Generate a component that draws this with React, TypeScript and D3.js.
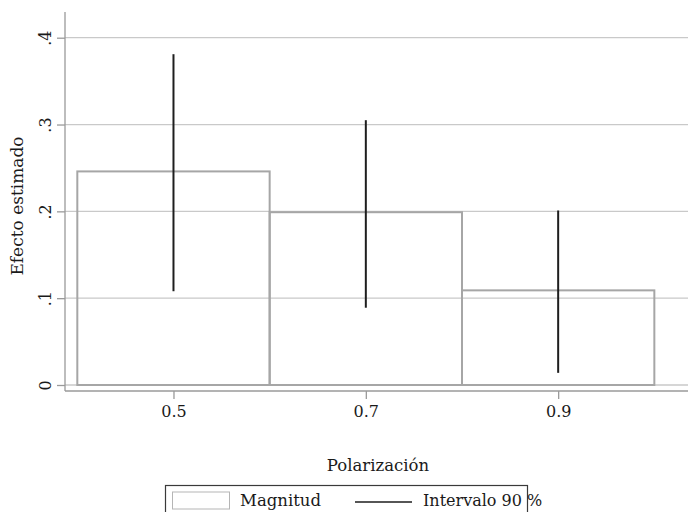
import React, { useRef, useEffect } from "react";
import * as d3 from "d3";

// Polarization levels and estimated effects
const categories = [0.5, 0.7, 0.9];
const magnitud = [0.246, 0.199, 0.109];
const lower90 = [0.108, 0.089, 0.014];
const upper90 = [0.381, 0.305, 0.201];
const barWidth = 0.2;

const yTicks = [0, 0.1, 0.2, 0.3, 0.4];
const yTickLabels = ["0", ".1", ".2", ".3", ".4"];
const xTicks = [0.5, 0.7, 0.9];
const xTickLabels = ["0.5", "0.7", "0.9"];

const FONT = "DejaVu Serif";

const App = () => {
  const ref = useRef<SVGSVGElement>(null);

  useEffect(() => {
    if (!ref.current) return;
    const svg = d3.select(ref.current);
    svg.selectAll("*").remove();

    const W = 688,
      H = 512;
    const plot = { left: 65, right: 688, top: 12, bottom: 391 };

    const x = d3.scaleLinear().domain([0.3872, 1.035]).range([plot.left, plot.right]);
    const y = d3.scaleLinear().domain([0, 0.4]).range([385, 37.7]);

    svg.append("rect").attr("width", W).attr("height", H).attr("fill", "#fff");

    // gridlines
    svg
      .append("g")
      .selectAll("line")
      .data(yTicks)
      .enter()
      .append("line")
      .attr("x1", plot.left)
      .attr("x2", plot.right)
      .attr("y1", (d) => y(d))
      .attr("y2", (d) => y(d))
      .attr("stroke", "#c9c9c9")
      .attr("stroke-width", 1.3);

    // bars
    const data = categories.map((c, i) => ({
      c,
      v: magnitud[i],
      lo: lower90[i],
      hi: upper90[i],
    }));

    svg
      .append("g")
      .selectAll("rect")
      .data(data)
      .enter()
      .append("rect")
      .attr("x", (d) => x(d.c - barWidth / 2))
      .attr("width", (d) => x(d.c + barWidth / 2) - x(d.c - barWidth / 2))
      .attr("y", (d) => y(d.v))
      .attr("height", (d) => y(0) - y(d.v))
      .attr("fill", "none")
      .attr("stroke", "#a6a6a6")
      .attr("stroke-width", 2);

    // 90% intervals
    svg
      .append("g")
      .selectAll("line")
      .data(data)
      .enter()
      .append("line")
      .attr("x1", (d) => x(d.c))
      .attr("x2", (d) => x(d.c))
      .attr("y1", (d) => y(d.lo))
      .attr("y2", (d) => y(d.hi))
      .attr("stroke", "#1e1e1e")
      .attr("stroke-width", 2);

    // y axis
    const yAxis = svg
      .append("g")
      .attr("transform", `translate(${plot.left},0)`)
      .call(
        d3
          .axisLeft(y)
          .tickValues(yTicks)
          .tickSize(8)
          .tickSizeOuter(0)
          .tickFormat((d, i) => yTickLabels[i])
      );
    yAxis.select(".domain").attr("d", `M0,${plot.top}V${plot.bottom}`);
    yAxis.selectAll("line").attr("stroke", "#9a9a9a").attr("stroke-width", 1.3);
    yAxis.select(".domain").attr("stroke", "#9a9a9a").attr("stroke-width", 1.3);
    yAxis
      .selectAll("text")
      .attr("transform", "rotate(-90)")
      .attr("x", 0)
      .attr("y", -14)
      .attr("dy", 0)
      .attr("text-anchor", "middle")
      .attr("fill", "#1a1a1a")
      .style("font-family", FONT)
      .style("font-size", "16px");

    // x axis
    const xAxis = svg
      .append("g")
      .attr("transform", `translate(0,${plot.bottom})`)
      .call(
        d3
          .axisBottom(x)
          .tickValues(xTicks)
          .tickSize(8)
          .tickSizeOuter(0)
          .tickFormat((d, i) => xTickLabels[i])
      );
    xAxis.select(".domain").attr("d", `M${plot.left},0H${plot.right}`);
    xAxis.selectAll("line").attr("stroke", "#9a9a9a").attr("stroke-width", 1.3);
    xAxis.select(".domain").attr("stroke", "#9a9a9a").attr("stroke-width", 1.3);
    xAxis
      .selectAll("text")
      .attr("y", 26)
      .attr("dy", 0)
      .attr("fill", "#1a1a1a")
      .style("font-family", FONT)
      .style("font-size", "16px");

    // axis titles
    svg
      .append("text")
      .attr("transform", `translate(23,206) rotate(-90)`)
      .attr("text-anchor", "middle")
      .attr("fill", "#1a1a1a")
      .style("font-family", FONT)
      .style("font-size", "17px")
      .text("Efecto estimado");

    svg
      .append("text")
      .attr("x", 378)
      .attr("y", 471)
      .attr("text-anchor", "middle")
      .attr("fill", "#1a1a1a")
      .style("font-family", FONT)
      .style("font-size", "16.5px")
      .text("Polarización");

    // legend
    const lg = svg.append("g");
    lg.append("rect")
      .attr("x", 165.5)
      .attr("y", 485.5)
      .attr("width", 362)
      .attr("height", 40)
      .attr("fill", "#fff")
      .attr("stroke", "#3a3a3a")
      .attr("stroke-width", 1.2);
    lg.append("rect")
      .attr("x", 172.5)
      .attr("y", 492)
      .attr("width", 57)
      .attr("height", 17)
      .attr("fill", "#fff")
      .attr("stroke", "#b5b5b5")
      .attr("stroke-width", 1);
    lg.append("text")
      .attr("x", 240)
      .attr("y", 506)
      .attr("fill", "#1a1a1a")
      .style("font-family", FONT)
      .style("font-size", "16.5px")
      .text("Magnitud");
    lg.append("line")
      .attr("x1", 355)
      .attr("x2", 412)
      .attr("y1", 502)
      .attr("y2", 502)
      .attr("stroke", "#1e1e1e")
      .attr("stroke-width", 1.3);
    lg.append("text")
      .attr("x", 423)
      .attr("y", 506)
      .attr("fill", "#1a1a1a")
      .style("font-family", FONT)
      .style("font-size", "16px")
      .text("Intervalo 90 %");
  }, []);

  return (
    <svg
      ref={ref}
      width={688}
      height={512}
      style={{ position: "absolute", left: 0, top: 0 }}
    />
  );
};

export default App;
